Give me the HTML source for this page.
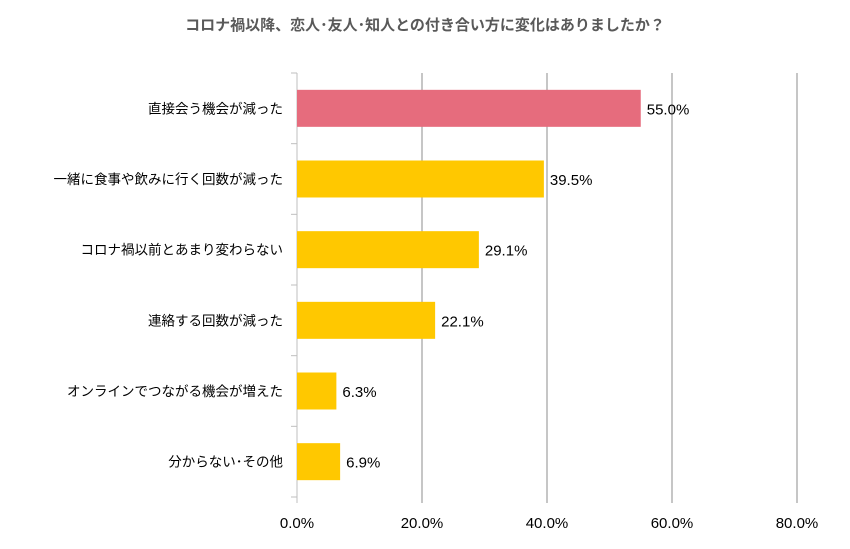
<!DOCTYPE html>
<html><head><meta charset="utf-8"><style>
body{margin:0;background:#fff;}
svg{font-family:"Liberation Sans","Noto Sans CJK JP",sans-serif;}
</style></head><body>
<svg id="chart" width="850" height="544">
<text x="425" y="30" text-anchor="middle" font-size="15" font-weight="bold" fill="#595959">コロナ禍以降、恋人･友人･知人との付き合い方に変化はありましたか？</text>
<g id="grid"></g><g id="bars"></g><g id="labels"></g>
</svg>
<script>
const categories=["直接会う機会が減った","一緒に食事や飲みに行く回数が減った","コロナ禍以前とあまり変わらない","連絡する回数が減った","オンラインでつながる機会が増えた","分からない･その他"];
const values=[55.0,39.5,29.1,22.1,6.3,6.9];
const ticks=[0,20,40,60,80];
const ns="http://www.w3.org/2000/svg";
const x0=297,x1=797,xmax=80,yTop=73,yBottom=497;
const band=(yBottom-yTop)/categories.length;
const xs=v=>x0+(v/xmax)*(x1-x0);
function mk(t,a,p){const e=document.createElementNS(ns,t);for(const k in a)e.setAttribute(k,a[k]);p.appendChild(e);return e;}
const g=document.getElementById('grid'),b=document.getElementById('bars'),l=document.getElementById('labels');
ticks.forEach(t=>{
 const ln=mk('line',{x1:xs(t),x2:xs(t),y1:yTop,y2:yBottom+6,stroke:t==0?'#bfbfbf':'#8c8c8c','stroke-width':1},g);
 
 
 const tx=mk('text',{x:xs(t),y:528,'text-anchor':'middle','font-size':15,fill:'#000'},l);
 tx.textContent=t.toFixed(1)+'%';
 
 
});
for(let i=0;i<=categories.length;i++){
 const y=yTop+i*band;
 const tk=mk('line',{x1:x0-6,x2:x0,y1:y,y2:y,stroke:'#bfbfbf'},g);
 
 
}
categories.forEach((c,i)=>{
 const cy=yTop+band*(i+0.5),h=37;
 const r=mk('rect',{x:x0,y:cy-h/2,width:xs(values[i])-x0,height:h,fill:i==0?'#e66c7d':'#ffc800'},b);
 
 
 const v=mk('text',{x:xs(values[i])+6,y:cy+6,'font-size':15,fill:'#000'},l);
 v.textContent=values[i].toFixed(1)+'%';
 
 
 const ct=mk('text',{x:283,y:cy+5,'text-anchor':'end','font-size':13.5,fill:'#000'},l);
 ct.textContent=c;
 
 
});
</script>
</body></html>
